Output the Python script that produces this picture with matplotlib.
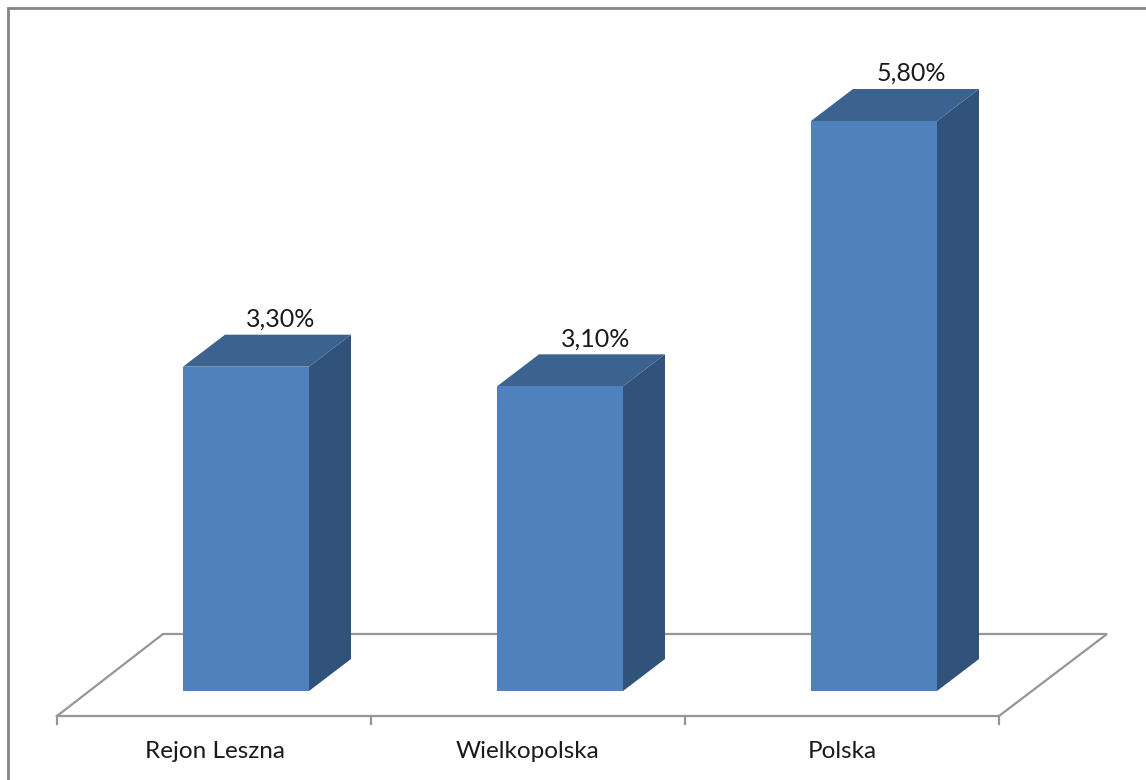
import matplotlib
matplotlib.use("Agg")
import matplotlib.pyplot as plt
from matplotlib.patches import Polygon, Rectangle

categories = ["Rejon Leszna", "Wielkopolska", "Polska"]
values = [3.3, 3.1, 5.8]
value_labels = ["3,30%", "3,10%", "5,80%"]

W, H = 1146, 780
DX, DY = 42, 32
BAR_W = 126
GREY = "#969696"

plt.rcParams["font.family"] = ["Lato", "DejaVu Sans"]

fig = plt.figure(figsize=(W / 100, H / 100), dpi=100)
ax = fig.add_axes([0, 0, 1, 1])
ax.set_xlim(0, W)
ax.set_ylim(H, 0)
ax.axis("off")

# chart frame, the crop only leaves its top and left sides
ax.plot([8, 8, W], [H, 8, 8], color="#868686", lw=2, solid_joinstyle="miter")

# floor of the 3d plot, has to stay behind the bars
ax.plot([57, 163, 1107, 999, 57], [716, 634, 634, 716, 716], color=GREY, lw=1.6, solid_joinstyle="miter", zorder=1)
for x in [57, 371, 685, 999]:
    ax.plot([x, x], [716, 724], color=GREY, lw=1.6, zorder=1)

base = 691
per_unit = (691 - 121) / 5.8
lefts = [183, 497, 811]
label_x = [281, 596, 911]
cat_x = [215, 528, 842]

for left, v, cat, lab, lx, cx in zip(lefts, values, categories, value_labels, label_x, cat_x):
    top = base - v * per_unit
    right = left + BAR_W
    ax.add_patch(Polygon([(right, top), (right + DX, top - DY), (right + DX, base - DY), (right, base)], fc="#31527b", ec="none", zorder=2))
    ax.add_patch(Polygon([(left, top), (left + DX, top - DY), (right + DX, top - DY), (right, top)], fc="#3c6290", ec="none", zorder=2))
    ax.add_patch(Rectangle((left, top), BAR_W, base - top, fc="#4f81bd", ec="none", zorder=3))
    ax.text(lx, top - DY - 4, lab, ha="center", va="bottom", fontsize=18, color="#1a1a1a")
    ax.text(cx, 751, cat, ha="center", va="center", fontsize=17.5, color="#1a1a1a")

fig.savefig("out.png", dpi=100)
